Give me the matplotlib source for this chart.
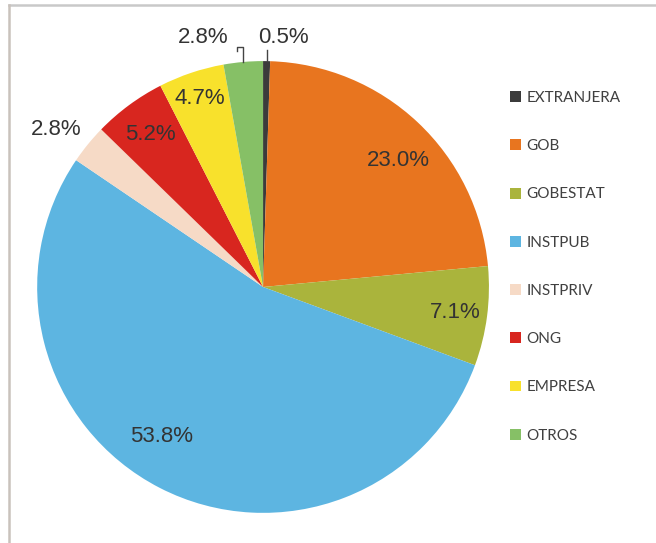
import numpy as np
import matplotlib.pyplot as plt
from matplotlib.lines import Line2D
from matplotlib.patches import Patch

labels = ['EXTRANJERA', 'GOB', 'GOBESTAT', 'INSTPUB', 'INSTPRIV', 'ONG', 'EMPRESA', 'OTROS']
values = [0.5, 23.0, 7.1, 53.8, 2.8, 5.2, 4.7, 2.8]
colors = ['#3b3b3b', '#e8751f', '#aab43c', '#5db5e1', '#f6dac6', '#d8261f', '#f8e12c', '#86c066']
# label distance from centre (pie radius = 1) and small angle nudge (deg)
label_r = [1.10, 0.82, 0.86, 0.80, 1.15, 0.84, 0.88, 1.10]
label_da = [0, -3.5, 0, -7, 2, 0, 0, 0]

fig = plt.figure(figsize=(6.56, 5.43), dpi=100)
fig.patch.set_facecolor('white')

# grey frame (top + left edge)
fig.add_artist(Line2D([9/656, 1], [1-5/543, 1-5/543], color='#c9c9c9', lw=1.8))
fig.add_artist(Line2D([9/656, 9/656], [0, 1-5/543], color='#c9c2bc', lw=1.8))

ax = fig.add_axes([0.0565, 0.0555, 0.689, 0.832])
wedges, _ = ax.pie(values, colors=colors, startangle=90, counterclock=False,
                   radius=1, wedgeprops=dict(linewidth=0))
ax.set_xlim(-1, 1)
ax.set_ylim(-1, 1)
ax.set_aspect('equal')
ax.axis('off')

total = sum(values)
cum = np.cumsum([0] + values)
for i, v in enumerate(values):
    mid = 90 - (cum[i] + v / 2) / total * 360 + label_da[i]
    t = np.deg2rad(mid)
    x, y = label_r[i] * np.cos(t), label_r[i] * np.sin(t)
    txt = '%.1f%%' % v
    if labels[i] == 'OTROS':
        x, y = -0.265, 1.106
        rx = np.cos(t)
        ax.plot([rx, rx, -0.115, -0.115], [np.sin(t), 1.062, 1.062, 1.045],
                color='#444444', lw=1, clip_on=False)
    elif labels[i] == 'EXTRANJERA':
        x, y = 0.09, 1.106
        rx = np.cos(t)
        ax.plot([rx, rx], [np.sin(t), 1.05], color='#444444', lw=1, clip_on=False)
    ax.text(x, y, txt, ha='center', va='center', fontsize=16,
            family='Liberation Sans', color='#333333', clip_on=False)

handles = [Patch(facecolor=c, edgecolor='none') for c in colors]
fig.legend(handles, labels, loc='upper left', bbox_to_anchor=(510/656, 1-91/543),
           frameon=False, handlelength=0.72, handleheight=0.72, handletextpad=0.35,
           labelspacing=2.24, borderaxespad=0, borderpad=0,
           prop={'family': 'Lato', 'size': 11}, labelcolor='#404040')

fig.savefig('out.png', dpi=100)
